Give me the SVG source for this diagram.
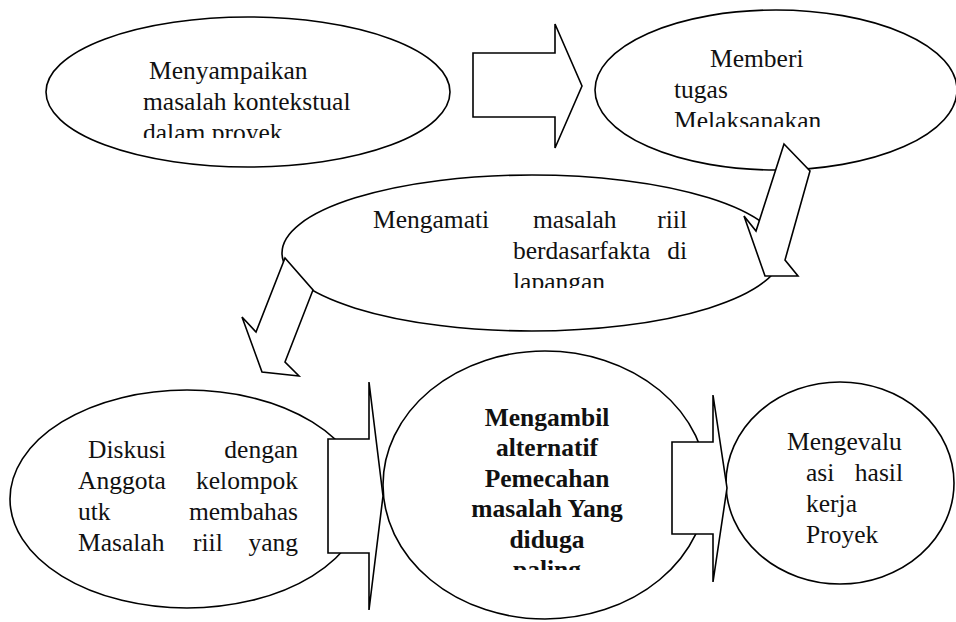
<svg xmlns="http://www.w3.org/2000/svg" width="956" height="622" viewBox="0 0 956 622">
<style>
.shape{fill:#fff;stroke:#000;stroke-width:1.6;stroke-linejoin:miter}
.t{font-family:"Liberation Serif","Times New Roman",serif;font-size:25.5px;fill:#111}
.b{font-weight:bold;text-anchor:middle}
.e{text-anchor:end}
</style>
<defs>
<clipPath id="c1"><rect x="100" y="40" width="300" height="98"/></clipPath>
<clipPath id="c2"><rect x="640" y="30" width="250" height="97"/></clipPath>
<clipPath id="c3"><rect x="340" y="190" width="380" height="98"/></clipPath>
<clipPath id="c4"><rect x="440" y="380" width="220" height="190"/></clipPath>
</defs>
<rect width="956" height="622" fill="#fff"/>
<g id="node-menyampaikan">
<ellipse class="shape" cx="248" cy="92" rx="202" ry="75"/>
<g clip-path="url(#c1)" class="t">
<text x="149" y="79">Menyampaikan</text>
<text x="143" y="110">masalah kontekstual</text>
<text x="143" y="141">dalam proyek</text>
</g>
</g>
<g id="node-memberi">
<ellipse class="shape" cx="776" cy="90" rx="181" ry="80"/>
<g clip-path="url(#c2)" class="t">
<text x="710" y="67">Memberi</text>
<text x="674" y="98">tugas</text>
<text x="674" y="129">Melaksanakan</text>
</g>
</g>
<g id="node-mengamati">
<ellipse class="shape" cx="532" cy="253" rx="250" ry="78"/>
<g clip-path="url(#c3)" class="t">
<text x="373" y="228">Mengamati</text>
<text x="533" y="228">masalah</text>
<text x="687" y="228" class="e">riil</text>
<text x="513" y="259">berdasarfakta</text>
<text x="687" y="259" class="e">di</text>
<text x="513" y="290">lapangan</text>
</g>
</g>
<g id="node-diskusi">
<ellipse class="shape" cx="187" cy="499" rx="177" ry="109"/>
<g class="t">
<text x="88" y="458">Diskusi</text>
<text x="298" y="458" class="e">dengan</text>
<text x="78" y="489">Anggota</text>
<text x="298" y="489" class="e">kelompok</text>
<text x="78" y="520">utk</text>
<text x="298" y="520" class="e">membahas</text>
<text x="78" y="551">Masalah</text>
<text x="193" y="551">riil</text>
<text x="298" y="551" class="e">yang</text>
</g>
</g>
<g id="node-mengambil">
<ellipse class="shape" cx="545" cy="485" rx="162" ry="134"/>
<g clip-path="url(#c4)" class="t b">
<text x="547" y="425.5">Mengambil</text>
<text x="547" y="456">alternatif</text>
<text x="547" y="486.5">Pemecahan</text>
<text x="547" y="517">masalah Yang</text>
<text x="547" y="547.5">diduga</text>
<text x="547" y="578">paling</text>
</g>
</g>
<g id="node-mengevaluasi">
<ellipse class="shape" cx="840" cy="483" rx="114" ry="101"/>
<g class="t">
<text x="787" y="450">Mengevalu</text>
<text x="806" y="481">asi</text>
<text x="903" y="481" class="e">hasil</text>
<text x="806" y="512">kerja</text>
<text x="806" y="543">Proyek</text>
</g>
</g>
<g id="connectors">
<polygon class="shape" points="473,53 555,53 555,24 582,86 555,148 555,117 473,117"/>
<polygon class="shape" points="784,144 810,171 785,260 798,276 765,276 744,216 756,231"/>
<polygon class="shape" points="285,258 313,290 285,362 299,376 262,372 242,317 256,332"/>
<polygon class="shape" points="328,439 369,439 369,382 383,496 369,610 369,553 328,553"/>
<polygon class="shape" points="672,442 713,442 713,395 727,488 713,582 713,534 672,534"/>
</g>
</svg>
